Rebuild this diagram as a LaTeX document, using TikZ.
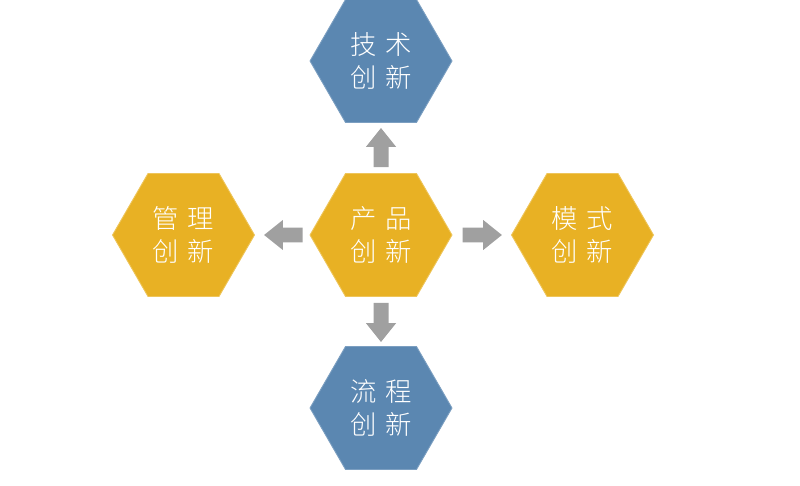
\documentclass[tikz,border=0pt]{standalone}
\usepackage{fontspec}
\newfontfamily\cjk{Noto Sans CJK SC Light}
\usetikzlibrary{shapes.geometric,arrows.meta}
\definecolor{jaune}{RGB}{232,177,36}
\definecolor{bleu}{RGB}{91,135,177}
\definecolor{gris}{RGB}{160,160,160}
\tikzset{
  hexa/.style={regular polygon, regular polygon sides=6, minimum size=2.84cm, inner sep=0pt,
    text=white, align=center, font=\cjk\fontsize{15}{18.8}\selectfont},
  hjaune/.style={hexa, fill=jaune, draw=jaune!75!white, line width=0.5pt},
  hbleu/.style={hexa, fill=bleu, draw=bleu!80!white, line width=0.5pt},
  fleche/.style={color=gris, line width=0.3cm, -{Triangle[width=0.58cm,length=0.38cm]}}
}
\newcommand{\esp}{\hspace{0.33em}}

\begin{document}
\begin{tikzpicture}[x=0.02cm, y=-0.02cm] % 1 unité = 1 pixel
\useasboundingbox (0,0) rectangle (800,486); % Marges de l'image

% Les hexagones
\node[hjaune] (prod) at (381,235) {产\esp 品\\创\esp 新};
\node[hbleu] (tech) at (381,61) {技\esp 术\\创\esp 新};
\node[hbleu] (flux) at (381,408) {流\esp 程\\创\esp 新};
\node[hjaune] (gest) at (183.5,235) {管\esp 理\\创\esp 新};
\node[hjaune] (modele) at (582.5,235) {模\esp 式\\创\esp 新};

% Les flèches
\draw[fleche, shorten <=0.12cm, shorten >=0.1cm] (prod) -- (tech);
\draw[fleche, shorten <=0.12cm, shorten >=0.08cm] (prod) -- (flux);
\draw[fleche, shorten <=0.14cm, shorten >=0.18cm] (prod) -- (gest);
\draw[fleche, shorten <=0.2cm, shorten >=0.18cm] (prod) -- (modele);
\end{tikzpicture}
\end{document}
